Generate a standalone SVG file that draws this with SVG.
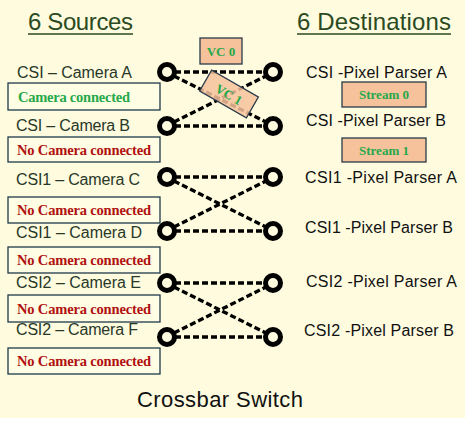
<svg xmlns="http://www.w3.org/2000/svg" width="465" height="421" viewBox="0 0 465 421">
<style>
.title{font-family:"Liberation Sans",Arial,sans-serif;font-size:24px;fill:#2B4A22;}
.src{font-family:"Liberation Sans",Arial,sans-serif;font-size:16px;fill:#283828;}
.dst{font-family:"Liberation Sans",Arial,sans-serif;font-size:16px;fill:#111;}
.box{fill:#FFFDE3;stroke:#1F3A4A;stroke-width:1.3;}
.ok{font-family:"Liberation Serif","Times New Roman",serif;font-weight:bold;font-size:14.5px;fill:#25A84A;}
.no{font-family:"Liberation Serif","Times New Roman",serif;font-weight:bold;font-size:14.5px;fill:#B01010;}
.tag{fill:#F6C29C;stroke:#2A3A4A;stroke-width:1.3;}
.tagt{font-family:"Liberation Serif","Times New Roman",serif;font-weight:bold;font-size:13px;fill:#25A84A;text-anchor:middle;}
.node{fill:none;stroke:#000;stroke-width:5;}
.link{stroke:#000;stroke-width:3.3;stroke-dasharray:6 3;fill:none;}
</style>
<rect x="0" y="0" width="465" height="421" fill="#FFFFFF"/>
<rect x="0" y="0" width="465" height="418" fill="#FEFBDF"/>

<g id="titles">
<text class="title" x="28" y="30" textLength="105">6 Sources</text>
<line x1="28" y1="34" x2="133" y2="34" stroke="#2B4A22" stroke-width="1.6"/>
<text class="title" x="297" y="30" textLength="154">6 Destinations</text>
<line x1="297" y1="34" x2="451" y2="34" stroke="#2B4A22" stroke-width="1.6"/>
</g>

<g id="connectors">
<line class="link" x1="175" y1="72" x2="265" y2="72"/>
<line class="link" x1="175" y1="126" x2="265" y2="126"/>
<line class="link" x1="174" y1="76" x2="266" y2="122"/>
<line class="link" x1="174" y1="122" x2="266" y2="76"/>
<line class="link" x1="175" y1="177" x2="265" y2="177"/>
<line class="link" x1="175" y1="231" x2="265" y2="231"/>
<line class="link" x1="174" y1="181" x2="266" y2="227"/>
<line class="link" x1="174" y1="227" x2="266" y2="181"/>
<line class="link" x1="175" y1="283" x2="265" y2="283"/>
<line class="link" x1="175" y1="337" x2="265" y2="337"/>
<line class="link" x1="174" y1="287" x2="266" y2="333"/>
<line class="link" x1="174" y1="333" x2="266" y2="287"/>
</g>

<g id="vc0"><rect class="tag" x="200" y="38" width="42" height="26"/><text class="tagt" x="221" y="56">VC 0</text></g>
<g id="vc1" transform="rotate(30 229 94)"><rect class="tag" x="202" y="82" width="54" height="24" fill-opacity="0.85"/><text class="tagt" x="229" y="99" font-size="14">VC 1</text></g>
<g id="stream0"><rect class="tag" x="342" y="82" width="84" height="25"/><text class="tagt" x="384" y="99">Stream 0</text></g>
<g id="stream1"><rect class="tag" x="342" y="138" width="84" height="24"/><text class="tagt" x="384" y="155">Stream 1</text></g>

<g id="srcA"><circle class="node" cx="167" cy="72" r="7.5"/><text class="src" x="17" y="78" textLength="115">CSI – Camera A</text></g>
<g id="srcB"><circle class="node" cx="167" cy="126" r="7.5"/><text class="src" x="16" y="131" textLength="114">CSI – Camera B</text></g>
<g id="srcC"><circle class="node" cx="167" cy="177" r="7.5"/><text class="src" x="16" y="185" textLength="124">CSI1 – Camera C</text></g>
<g id="srcD"><circle class="node" cx="167" cy="231" r="7.5"/><text class="src" x="16" y="238" textLength="126">CSI1 – Camera D</text></g>
<g id="srcE"><circle class="node" cx="167" cy="283" r="7.5"/><text class="src" x="16" y="288" textLength="125">CSI2 – Camera E</text></g>
<g id="srcF"><circle class="node" cx="167" cy="337" r="7.5"/><text class="src" x="16" y="335" textLength="122">CSI2 – Camera F</text></g>

<g id="dstA"><circle class="node" cx="273" cy="72" r="7.5"/><text class="dst" x="306" y="78" textLength="141">CSI -Pixel Parser A</text></g>
<g id="dstB"><circle class="node" cx="273" cy="126" r="7.5"/><text class="dst" x="306" y="126" textLength="140">CSI -Pixel Parser B</text></g>
<g id="dstC"><circle class="node" cx="273" cy="177" r="7.5"/><text class="dst" x="305" y="183" textLength="152">CSI1 -Pixel Parser A</text></g>
<g id="dstD"><circle class="node" cx="273" cy="231" r="7.5"/><text class="dst" x="305" y="233" textLength="148">CSI1 -Pixel Parser B</text></g>
<g id="dstE"><circle class="node" cx="273" cy="283" r="7.5"/><text class="dst" x="306" y="287" textLength="151">CSI2 -Pixel Parser A</text></g>
<g id="dstF"><circle class="node" cx="273" cy="337" r="7.5"/><text class="dst" x="304" y="336" textLength="150">CSI2 -Pixel Parser B</text></g>

<g id="statusA"><rect class="box" x="8" y="83" width="152" height="27"/><text class="ok" x="18" y="102" textLength="112">Camera connected</text></g>
<g id="statusB"><rect class="box" x="8" y="137" width="152" height="25"/><text class="no" x="17" y="155" textLength="134">No Camera connected</text></g>
<g id="statusC"><rect class="box" x="8" y="197" width="152" height="26"/><text class="no" x="17" y="215" textLength="134">No Camera connected</text></g>
<g id="statusD"><rect class="box" x="8" y="247" width="152" height="26"/><text class="no" x="17" y="265" textLength="134">No Camera connected</text></g>
<g id="statusE"><rect class="box" x="8" y="295" width="152" height="27"/><text class="no" x="17" y="314" textLength="134">No Camera connected</text></g>
<g id="statusF"><rect class="box" x="8" y="348" width="152" height="26"/><text class="no" x="17" y="366" textLength="134">No Camera connected</text></g>

<g id="caption"><text x="137" y="407" font-family="'Liberation Sans',Arial,sans-serif" font-size="22" fill="#111" textLength="166">Crossbar Switch</text></g>
</svg>
